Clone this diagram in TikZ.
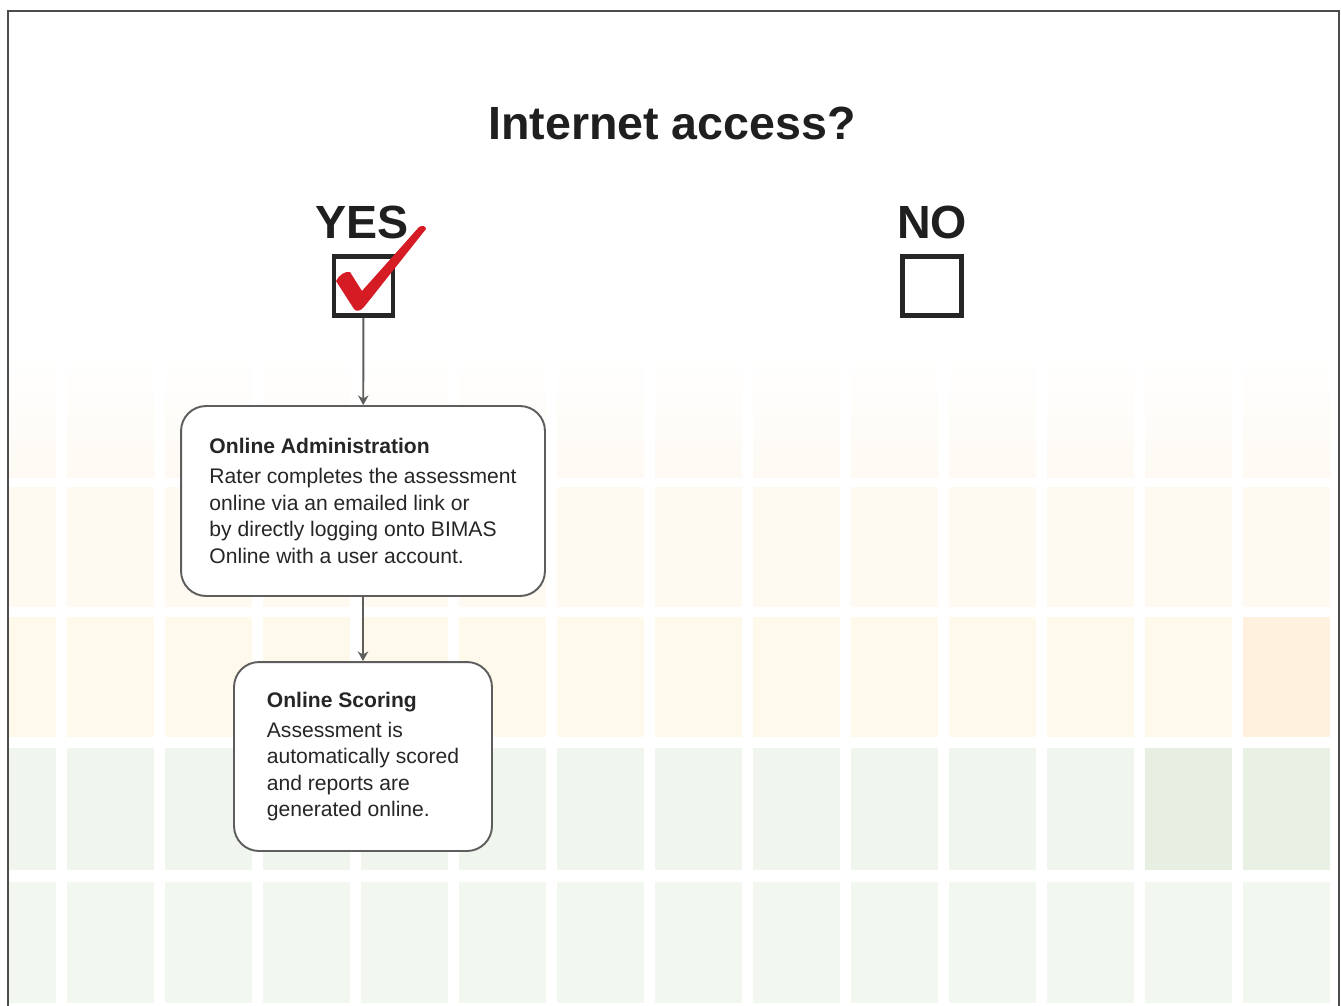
\documentclass[tikz,border=0pt]{standalone}
\usepackage{fontspec}
\setmainfont{Liberation Sans}
\usetikzlibrary{arrows.meta}
\definecolor{checkred}{HTML}{D51C24}
\definecolor{inkgray}{HTML}{5E5E5E}
\definecolor{rowa}{HTML}{FEFAF3}
\definecolor{rowb}{HTML}{FEFAF1}
\definecolor{rowc}{HTML}{FFF9EC}
\definecolor{rowd}{HTML}{F0F6EE}
\definecolor{rowe}{HTML}{F2F7F0}
\definecolor{tileorange}{HTML}{FFF1DE}
\definecolor{tilegreen}{HTML}{E6EFE2}
\definecolor{tilegreenb}{HTML}{E9F1E5}
\begin{document}
\begin{tikzpicture}[x=0.02cm, y=-0.02cm, >={Stealth[length=5.5pt,width=6pt]},
    stepbox/.style={draw=inkgray, line width=1.1pt, fill=white, rounded corners=0.5cm,
        align=left, text=black!85, font=\fontsize{12}{15.1}\selectfont},
    tick/.style={draw=black!85, line width=2.8pt, minimum size=1.18cm, inner sep=0pt},
    big/.style={font=\fontsize{26.5}{30}\selectfont\bfseries, text=black!88}]
\useasboundingbox (0,0) rectangle (1341,1005);
% tiles in the back
\begin{scope}
\clip (9,12) rectangle (1338,1005);
\foreach \ya/\yb/\col in {357/477/rowa, 487/607/rowb, 617/737/rowc, 748/870/rowd, 882/1003/rowe}
  \foreach \k in {0,...,13}
    \fill[\col] ({-31+98*\k},\ya) rectangle ++(87,{\yb-\ya});
\foreach \k in {0,...,13}
  \shade[top color=white, bottom color=rowa] ({-31+98*\k},357) rectangle ++(87,120);
\fill[tileorange] (1243,617) rectangle (1330,737);
\fill[tilegreen] (1145,748) rectangle (1232,870);
\fill[tilegreenb] (1243,748) rectangle (1330,870);
\end{scope}
\draw[black!70, line width=1.2pt] (8,1010) |- (1339,11) -- (1339,1010);
% question and answers
\node[big] (title) at (672,123) {Internet access?};
\node[big] (yes) at (362,222) {YES};
\node[big] (no) at (932,222) {NO};
\node[tick] (yesbox) at (363.5,286) {};
\node[tick] (nobox) at (932,286) {};
\fill[checkred] (336,281) .. controls (339,275) and (345,271) .. (350,272) -- (362,291)
    -- (419,227) .. controls (422,225) and (426,226) .. (426,229) -- (364,307)
    .. controls (361,311) and (356,312) .. (354,309) -- cycle;
% the two steps
\node[stepbox, minimum width=7.28cm, minimum height=3.8cm] (admin) at (363,501)
    {\textbf{Online Administration}\\[2pt]
     Rater completes the assessment\\
     online via an emailed link or\\
     by directly logging onto BIMAS\\
     Online with a user account.};
\node[stepbox, minimum width=5.16cm, minimum height=3.78cm] (scoring) at (363,756.5)
    {\textbf{Online Scoring}\\[2pt]
     Assessment is\\
     automatically scored\\
     and reports are\\
     generated online.};
\draw[->, inkgray, line width=1.1pt] (yesbox) -- (admin);
\draw[->, inkgray, line width=1.1pt] (admin) -- (scoring);
\end{tikzpicture}
\end{document}
